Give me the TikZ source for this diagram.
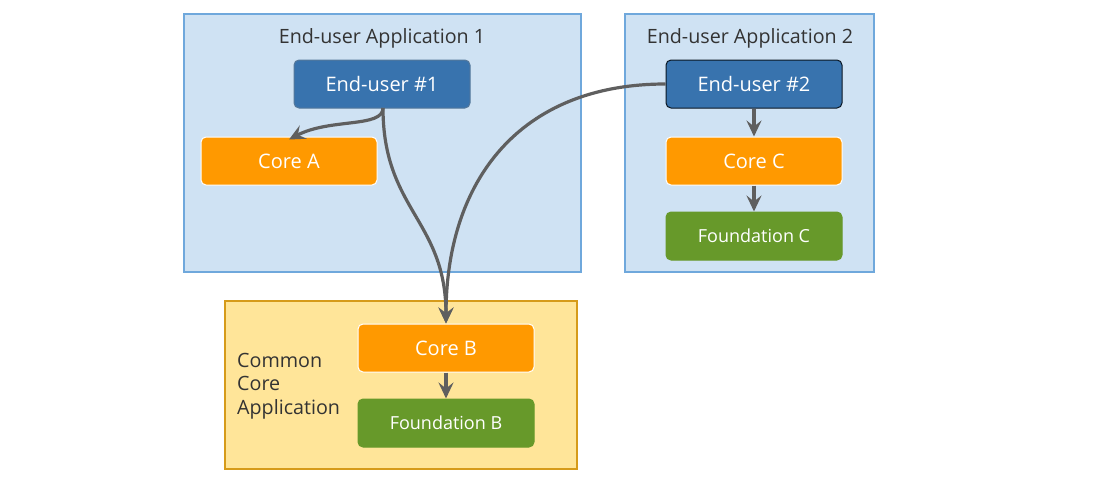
\documentclass[tikz,border=0pt]{standalone}
\usepackage{fontspec}
\setmainfont{Open Sans}
\usetikzlibrary{arrows.meta}
\definecolor{appfill}{HTML}{CFE2F3}
\definecolor{appline}{HTML}{6FA8DC}
\definecolor{commonfill}{HTML}{FFE599}
\definecolor{commonline}{HTML}{D69B1A}
\definecolor{userfill}{HTML}{3873AE}
\definecolor{corefill}{HTML}{FF9900}
\definecolor{foundfill}{HTML}{67992A}
\definecolor{arrowgray}{HTML}{5F5F5F}
\definecolor{textdark}{HTML}{333333}
\tikzset{
  container/.style={draw=appline, fill=appfill, line width=1.5pt},
  commonbox/.style={draw=commonline, fill=commonfill, line width=1.5pt},
  block/.style={rounded corners=5pt, minimum width=176pt, minimum height=48pt,
    inner sep=0pt, text=white, line width=1pt, font=\fontsize{20}{24}\selectfont},
  userblock/.style={block, fill=userfill},
  coreblock/.style={block, fill=corefill, draw=white},
  foundblock/.style={block, fill=foundfill, draw=foundfill, font=\fontsize{18}{22}\selectfont},
  title/.style={text=textdark, font=\fontsize{19.7}{24}\selectfont, inner sep=0pt},
  link/.style={draw=arrowgray, line width=3.2pt, -{Stealth[length=16pt, width=15pt, inset=6pt]}},
}
\begin{document}
\begin{tikzpicture}[x=1pt, y=-1pt]
\useasboundingbox (0,0) rectangle (1120,480);
% containers
\draw[container] (184,14) rectangle (581,272);
\draw[container] (625,14) rectangle (874,272);
\draw[commonbox] (225,301) rectangle (577,469);
% titles
\node[title] (t1) at (382,38) {End-user Application 1};
\node[title] (t2) at (750,38) {End-user Application 2};
\node[title, anchor=west, align=left, font=\fontsize{19.7}{23.5}\selectfont] (t3) at (237,386) {Common\\Core\\Application};
% blocks
\node[userblock, draw=userfill!60!gray] (u1) at (382,84) {End-user \#1};
\node[userblock, draw=black!80!userfill] (u2) at (754,84) {End-user \#2};
\node[coreblock] (ca) at (289,161) {Core A};
\node[coreblock] (cc) at (754,161) {Core C};
\node[foundblock] (fc) at (754,236) {Foundation C};
\node[coreblock] (cb) at (446,348) {Core B};
\node[foundblock] (fb) at (446,423) {Foundation B};
% connectors
\coordinate (u1s) at (383,108);
\coordinate (caTop) at ([yshift=-3pt]ca.north);
\draw[link] (u1s) .. controls (383,128) and (330,118) .. (caTop);
\draw[link] (u1s) .. controls (383,210) and (446,220) .. (cb.north);
\draw[link] (u2.west) .. controls (520,84) and (446,180) .. (cb.north);
\draw[link] (u2.south) -- (cc.north);
\draw[link] (cc.south) -- (fc.north);
\draw[link] (cb.south) -- (fb.north);
\end{tikzpicture}
\end{document}
